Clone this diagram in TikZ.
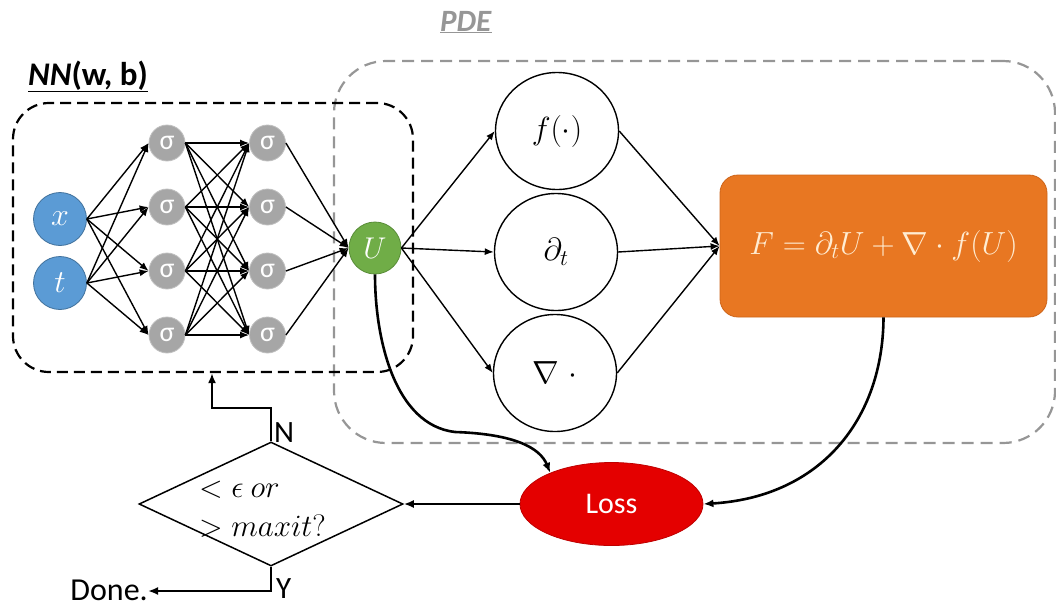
\RequirePackage{fix-cm}
\documentclass[tikz,border=0pt]{standalone}
\usepackage{fontspec}
\setmainfont{Carlito}
\usetikzlibrary{shapes.geometric,arrows.meta}
\definecolor{nnblue}{RGB}{91,155,213}
\definecolor{nnblueline}{RGB}{65,113,156}
\definecolor{siggray}{RGB}{166,166,166}
\definecolor{siggrayline}{RGB}{192,192,192}
\definecolor{ugreen}{RGB}{112,173,71}
\definecolor{ugreenline}{RGB}{88,140,55}
\definecolor{lossred}{RGB}{228,0,0}
\definecolor{lossredline}{RGB}{190,0,0}
\definecolor{forange}{RGB}{232,119,34}
\definecolor{forangeline}{RGB}{205,100,25}
\definecolor{fcream}{RGB}{255,236,210}
\definecolor{pdegray}{RGB}{150,150,150}
\newcommand\setfs[1]{\fontsize{#1}{#1}\selectfont}
\begin{document}
\begin{tikzpicture}[x=1pt,y=-1pt,
  inp/.style={circle, fill=nnblue, draw=nnblueline, line width=0.8pt, minimum size=53pt, inner sep=0pt, text=white, font=\setfs{32}},
  sig/.style={circle, fill=siggray, draw=siggrayline, line width=0.8pt, minimum size=36pt, inner sep=0pt, text=white, font=\setfs{28}},
  unode/.style={circle, fill=ugreen, draw=ugreenline, line width=0.8pt, minimum size=52pt, inner sep=0pt, text=white, font=\setfs{30}},
  opnode/.style={ellipse, draw=black, line width=1.4pt, minimum width=123pt, minimum height=117pt, inner sep=0pt, font=\setfs{32}},
  fnode/.style={rectangle, rounded corners=18pt, fill=forange, draw=forangeline, line width=0.8pt, minimum width=327pt, minimum height=142pt, text=fcream, font=\setfs{32}},
  lossnode/.style={ellipse, fill=lossred, draw=lossredline, line width=0.8pt, minimum width=183pt, minimum height=83pt, inner sep=0pt, text=white, font=\setfs{30}},
  decnode/.style={diamond, draw=black, line width=1.5pt, minimum width=264pt, minimum height=124pt, inner sep=0pt},
  dtext/.style={inner sep=0pt, font=\setfs{31}},
  lbl/.style={inner sep=0pt, font=\setfs{31}},
  nnboxst/.style={rectangle, draw=black, dash pattern=on 11pt off 6pt, line width=2.2pt, rounded corners=36pt},
  pdeboxst/.style={rectangle, draw=pdegray, dash pattern=on 12pt off 7pt, line width=2.2pt, rounded corners=52pt},
  net/.style={line width=1.4pt, -{Latex[length=9pt,width=7pt]}},
  flow/.style={line width=2.6pt, -{Latex[length=10pt,width=8pt]}}
]
\useasboundingbox (0,0) rectangle (1056,608);

% group boxes
\node[pdeboxst, minimum width=721pt, minimum height=382pt] (pde) at (694.5,252) {};
\node[nnboxst, minimum width=400pt, minimum height=269pt] (nn) at (213,237.5) {};
\node[lbl, anchor=base west, font=\setfs{33}] (nnlbl) at (28,85) {\underline{\textbf{\textit{NN}(w, b)}}};
\node[lbl, anchor=base, text=pdegray] (pdelbl) at (466,31) {\underline{\textbf{\textit{PDE}}}};

% network nodes
\node[inp] (x) at (60,219) {$x$};
\node[inp] (t) at (60,283) {$t$};
\foreach \n/\y in {a/143,b/207,c/271,d/335}{
  \node[sig] (h1\n) at (167,\y) {σ};
  \node[sig] (h2\n) at (267.5,\y) {σ};
}
\node[unode] (U) at (375,248) {$U$};

% PDE operators
\node[opnode] (fop) at (557,131) {$f(\cdot)$};
\node[opnode] (dop) at (556,252) {$\partial_t$};
\node[opnode] (nop) at (555,373) {$\nabla\;\cdot$};
\node[fnode] (F) at (883.5,246) {$F=\partial_tU+\nabla\cdot f(U)$};

% loss and decision
\node[lossnode] (loss) at (611.5,504) {Loss};
\node[decnode] (dia) at (271,504) {};
\node[dtext, anchor=base west] (dt1) at (199,497) {$<\epsilon\ or$};
\node[dtext, anchor=base west] (dt2) at (199,536) {$> maxit?$};
\node[lbl, anchor=base west] (Nlbl) at (274,442) {N};
\node[lbl, anchor=base west] (Ylbl) at (276,598) {Y};
\node[lbl, anchor=base east, font=\setfs{32}] (done) at (148,600) {Done.};

% network connectors
\foreach \s in {x,t}{
  \foreach \d in {h1a,h1b,h1c,h1d}{
    \draw[net] (\s.east) -- (\d.west);
  }
}
\foreach \s in {h1a,h1b,h1c,h1d}{
  \foreach \d in {h2a,h2b,h2c,h2d}{
    \draw[net] (\s.east) -- (\d.west);
  }
}
\foreach \s in {h2a,h2b,h2c,h2d}{
  \draw[net] (\s.east) -- (U.west);
}
\foreach \d in {fop,dop,nop}{
  \draw[net] (U.east) -- (\d.west);
  \draw[net] (\d.east) -- (F.west);
}

% flow connectors
\coordinate (ulmid) at (455,432);
\draw[flow] (U.south) .. controls (375,340) and (395,425) .. (ulmid)
            .. controls (515,434) and (540,448) .. (loss.153);
\draw[flow] (F.south) .. controls (883,420) and (820,497) .. (loss.east);
\draw[flow] (loss.west) -- (dia.east);
\coordinate (nb1) at (271,408);
\coordinate (nb2) at (212,408);
\draw[flow] (dia.north) -- (nb1) -- (nb2) -- (nb2 |- nn.south);
\coordinate (yb) at (271,591);
\draw[flow] (dia.south) -- (yb) -- (yb -| done.east);
\end{tikzpicture}
\end{document}
